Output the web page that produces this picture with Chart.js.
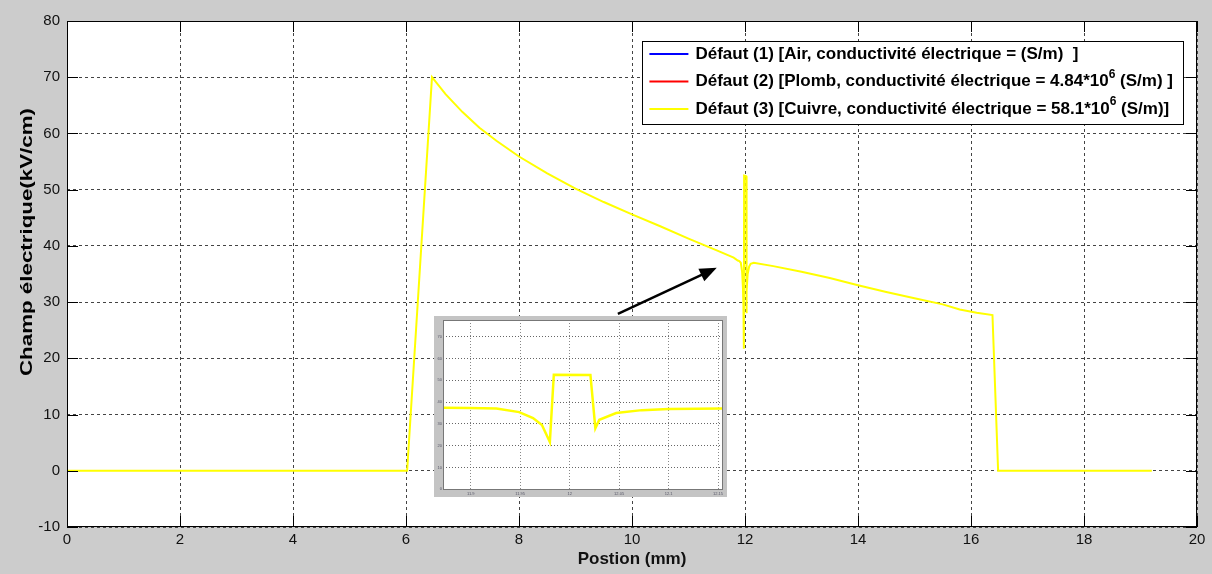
<!DOCTYPE html>
<html>
<head>
<meta charset="utf-8">
<script src="https://cdn.jsdelivr.net/npm/chart.js@4"></script>
<style>
  html, body { margin: 0; padding: 0; background: #cccccc; }
  #wrap { position: relative; width: 1212px; height: 574px; background: #cccccc; }
  #main { position: absolute; left: 0; top: 0; }
  #zoomBox { position: absolute; left: 434px; top: 316px; width: 293px; height: 181px; background: #c4c4c4; }
  #inset { position: absolute; left: 0; top: 0; }
</style>
</head>
<body>
<div id="wrap">
  <canvas id="main" width="1212" height="574"></canvas>
  <div id="zoomBox"><canvas id="inset" width="293" height="181"></canvas></div>
</div>
<script>
// position (mm) and field (kV/cm)
const posMm = [0, 6.02, 6.46, 6.7, 7.0, 7.3, 7.6, 8.0, 8.5, 9.0, 9.5, 10.0, 10.5, 11.0, 11.5, 11.8,
  11.872, 11.899, 11.926, 11.949, 11.963, 11.972, 11.98, 11.984, 12.021, 12.026, 12.03,
  12.047, 12.073, 12.1, 12.155, 12.5, 13.0, 13.5, 14.0, 14.5, 15.0, 15.5, 15.8, 16.1,
  16.38, 16.48, 19.2];
const champ = [0, 0, 70, 67.0, 63.8, 61.0, 58.7, 55.9, 52.9, 50.2, 47.8, 45.6, 43.5, 41.3, 39.2, 37.9,
  37.4, 37.3, 37.0, 35.4, 32.7, 29.5, 21.7, 52.5, 52.4, 28.0, 31.9,
  35.0, 36.3, 36.8, 37.0, 36.4, 35.4, 34.3, 33.0, 31.8, 30.7, 29.6, 28.7, 28.1,
  27.7, 0, 0];

const seriesLabels = [
  'Défaut (1) [Air, conductivité électrique = (S/m)  ]',
  'Défaut (2) [Plomb, conductivité électrique = 4.84*10⁶ (S/m) ]',
  'Défaut (3) [Cuivre, conductivité électrique = 58.1*10⁶ (S/m)]'
];
const seriesColors = ['#0000ff', '#ff0000', '#ffff00'];

// zoomed view around the defect
const insetXTicks = [11.9, 11.95, 12, 12.05, 12.1, 12.15];
const insetYTicks = [0, 10, 20, 30, 40, 50, 60, 70];

// arrow pointing from the zoom box to the defect (data units)
const arrowFrom = { x: 9.75, y: 27.9 };
const arrowTo = { x: 11.5, y: 36.1 };

Chart.defaults.font.family = '"Liberation Sans", Arial, sans-serif';
Chart.defaults.color = '#111';

const points = posMm.map((p, i) => ({ x: p, y: champ[i] }));

// white axes background + black box with inward ticks (matlab look)
const frame = (color, tick) => ({
  id: 'frame',
  beforeDraw(chart) {
    const { ctx, chartArea: a } = chart;
    ctx.save();
    ctx.fillStyle = '#fff';
    ctx.fillRect(a.left, a.top, a.width, a.height);
    ctx.restore();
  },
  afterDraw(chart) {
    const { ctx, chartArea: a, scales: { x, y } } = chart;
    ctx.save();
    ctx.strokeStyle = color;
    ctx.lineWidth = 1;
    ctx.strokeRect(a.left + 0.5, a.top + 0.5, a.width - 1, a.height - 1);
    if (tick > 0) {
      ctx.beginPath();
      x.ticks.forEach(t => {
        const px = Math.round(x.getPixelForValue(t.value)) + 0.5;
        ctx.moveTo(px, a.bottom); ctx.lineTo(px, a.bottom - tick);
        ctx.moveTo(px, a.top); ctx.lineTo(px, a.top + tick);
      });
      y.ticks.forEach(t => {
        const py = Math.round(y.getPixelForValue(t.value)) + 0.5;
        ctx.moveTo(a.left, py); ctx.lineTo(a.left + tick, py);
        ctx.moveTo(a.right, py); ctx.lineTo(a.right - tick, py);
      });
      ctx.stroke();
    }
    ctx.restore();
  }
});

const supMap = { '⁰': '0', '¹': '1', '²': '2', '³': '3', '⁴': '4', '⁵': '5', '⁶': '6', '⁷': '7', '⁸': '8', '⁹': '9' };

const legendBox = {
  id: 'legendBox',
  afterDraw(chart) {
    const { ctx, chartArea: a } = chart;
    const font = 'bold 17px "Liberation Sans", Arial, sans-serif';
    const supFont = 'bold 12px "Liberation Sans", Arial, sans-serif';
    ctx.save();
    const pieces = chart.data.datasets.map(ds => ds.label.split(/([⁰¹²³⁴⁵⁶⁷⁸⁹]+)/));
    const widthOf = parts => parts.reduce((w, s, i) => {
      ctx.font = i % 2 ? supFont : font;
      const txt = i % 2 ? [...s].map(c => supMap[c]).join('') : s;
      return w + ctx.measureText(txt).width;
    }, 0);
    const textW = Math.max(...pieces.map(widthOf));
    const right = a.right - 14, top = a.top + 20;
    const w = 53 + textW + 10, h = 83;
    const left = right - w;
    ctx.fillStyle = '#fff';
    ctx.fillRect(left, top, w, h);
    ctx.strokeStyle = '#000';
    ctx.lineWidth = 1;
    ctx.strokeRect(Math.round(left) + 0.5, top + 0.5, Math.round(w), h);
    pieces.forEach((parts, k) => {
      const rowY = top + 13 + k * 27.5;
      ctx.strokeStyle = chart.data.datasets[k].borderColor;
      ctx.lineWidth = 2;
      ctx.beginPath();
      ctx.moveTo(left + 7, rowY); ctx.lineTo(left + 46, rowY);
      ctx.stroke();
      let tx = left + 53;
      ctx.fillStyle = '#000';
      ctx.textBaseline = 'middle';
      parts.forEach((s, i) => {
        if (i % 2) {
          const txt = [...s].map(c => supMap[c]).join('');
          ctx.font = supFont;
          ctx.fillText(txt, tx, rowY - 7);
          tx += ctx.measureText(txt).width;
        } else {
          ctx.font = font;
          ctx.fillText(s, tx, rowY);
          tx += ctx.measureText(s).width;
        }
      });
    });
    ctx.restore();
  }
};

const arrowAndTitle = {
  id: 'arrowAndTitle',
  afterDraw(chart) {
    const { ctx, scales: { x, y } } = chart;
    const x0 = x.getPixelForValue(arrowFrom.x), y0 = y.getPixelForValue(arrowFrom.y);
    const x1 = x.getPixelForValue(arrowTo.x), y1 = y.getPixelForValue(arrowTo.y);
    const ang = Math.atan2(y1 - y0, x1 - x0);
    ctx.save();
    ctx.strokeStyle = '#000';
    ctx.fillStyle = '#000';
    ctx.lineWidth = 2.5;
    ctx.beginPath();
    ctx.moveTo(x0, y0);
    ctx.lineTo(x1 - 12 * Math.cos(ang), y1 - 12 * Math.sin(ang));
    ctx.stroke();
    ctx.beginPath();
    ctx.moveTo(x1, y1);
    ctx.lineTo(x1 - 17 * Math.cos(ang) + 7 * Math.sin(ang), y1 - 17 * Math.sin(ang) - 7 * Math.cos(ang));
    ctx.lineTo(x1 - 17 * Math.cos(ang) - 7 * Math.sin(ang), y1 - 17 * Math.sin(ang) + 7 * Math.cos(ang));
    ctx.closePath();
    ctx.fill();
    // y axis title, stretched along its length like the source picture
    const title = 'Champ électrique(kV/cm)';
    ctx.font = 'bold 16px "Liberation Sans", Arial, sans-serif';
    const tw = ctx.measureText(title).width;
    ctx.translate(28, 242);
    ctx.rotate(-Math.PI / 2);
    ctx.scale(268 / tw, 1);
    ctx.textAlign = 'center';
    ctx.textBaseline = 'middle';
    ctx.fillText(title, 0, 0);
    ctx.restore();
  }
};

new Chart(document.getElementById('main'), {
  type: 'line',
  data: {
    datasets: seriesLabels.map((lab, i) => ({
      label: lab,
      data: i === 2 ? points : [],
      borderColor: seriesColors[i],
      backgroundColor: seriesColors[i],
      borderWidth: 2,
      pointRadius: 0,
      tension: 0,
      fill: false
    }))
  },
  options: {
    responsive: false,
    animation: false,
    devicePixelRatio: 1,
    layout: { padding: { top: 21, right: 15, left: 0, bottom: 0 } },
    plugins: { legend: { display: false }, tooltip: { enabled: false } },
    scales: {
      x: {
        type: 'linear',
        min: 0,
        max: 20,
        ticks: { stepSize: 2, padding: 4, font: { size: 15 }, maxRotation: 0 },
        grid: { color: '#444', lineWidth: 1, drawTicks: false },
        border: { display: false, dash: [3, 3] },
        title: { display: true, text: 'Postion (mm)', font: { size: 17, weight: 'bold' }, padding: { top: 1, bottom: 4 } },
        afterFit: s => { s.height = 47; }
      },
      y: {
        min: -10,
        max: 80,
        ticks: { stepSize: 10, padding: 7, font: { size: 15 } },
        grid: { color: '#444', lineWidth: 1, drawTicks: false },
        border: { display: false, dash: [3, 3] },
        afterFit: s => { s.width = 67; }
      }
    }
  },
  plugins: [frame('#000', 11), legendBox, arrowAndTitle]
});

new Chart(document.getElementById('inset'), {
  type: 'line',
  data: {
    datasets: [{
      label: seriesLabels[2],
      data: points,
      borderColor: seriesColors[2],
      borderWidth: 2.5,
      pointRadius: 0,
      tension: 0,
      fill: false
    }]
  },
  options: {
    responsive: false,
    animation: false,
    devicePixelRatio: 1,
    layout: { padding: { top: 4, right: 4, left: 0, bottom: 0 } },
    plugins: { legend: { display: false }, tooltip: { enabled: false } },
    scales: {
      x: {
        type: 'linear',
        min: 11.872,
        max: 12.155,
        afterBuildTicks: s => { s.ticks = insetXTicks.map(v => ({ value: v })); },
        ticks: { padding: 1, font: { size: 4 }, color: '#556', maxRotation: 0, callback: v => String(v) },
        grid: { color: '#888', lineWidth: 1, drawTicks: false },
        border: { display: false, dash: [1, 2] },
        afterFit: s => { s.height = 7; }
      },
      y: {
        min: -0.3,
        max: 77.6,
        afterBuildTicks: s => { s.ticks = insetYTicks.map(v => ({ value: v })); },
        ticks: { padding: 1, font: { size: 4 }, color: '#556', callback: v => String(v) },
        grid: { color: '#666', lineWidth: 1, drawTicks: false },
        border: { display: false, dash: [1, 2] },
        afterFit: s => { s.width = 9; }
      }
    }
  },
  plugins: [frame('#777', 0)]
});
</script>
</body>
</html>
